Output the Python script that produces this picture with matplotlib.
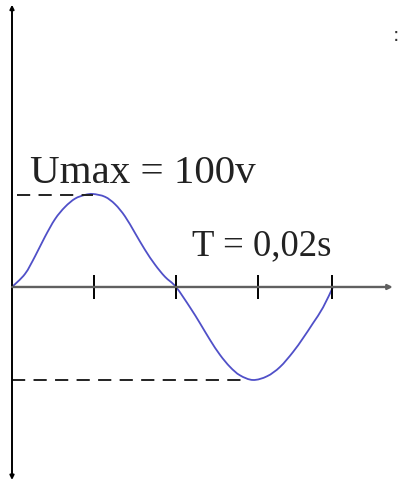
import matplotlib
matplotlib.use("Agg")
import matplotlib.pyplot as plt
from matplotlib.path import Path
from matplotlib.patches import PathPatch

plt.rcParams['lines.scale_dashes'] = False

# Data (time in ms, voltage in V)
t_pos = [0, 0.81, 1.44, 2.06, 2.69, 3.31, 3.94, 4.56, 5.06, 5.81, 6.44, 7.06, 7.69, 8.31, 8.94, 9.56, 10.25]
u_pos = [0, 14, 33, 54, 73, 86, 95, 99, 100, 97, 89, 76, 58, 40, 24, 11, 0]
t_neg = [10.25, 11.13, 11.75, 12.38, 13.0, 13.63, 14.25, 15.06, 15.94, 16.75, 17.56, 18.19, 18.81, 19.44, 20.06]
u_neg = [0, -22, -39, -57, -73, -86, -95, -100, -96, -86, -70, -55, -39, -22, 0]
tick_times = [5.13, 10.25, 15.38, 20.0]
u_max = 100
t_peak = 5.06
t_trough = 14.5
label_umax = "Umax = 100v"
label_period = "T = 0,02s"

fig = plt.figure(figsize=(4.01, 4.86), dpi=100)
ax = fig.add_axes([0, 0, 1, 1])
ax.set_xlim(-0.75, 24.3125)
ax.set_ylim(-214.0, 308.6)
ax.axis('off')

# vertical axis
ax.annotate('', xy=(0, 303.5), xytext=(0, -207.5),
            arrowprops=dict(arrowstyle='<|-|>', color='black', lw=1.4,
                            mutation_scale=6, shrinkA=0, shrinkB=0))
# horizontal axis
ax.annotate('', xy=(23.8, 0), xytext=(0, 0),
            arrowprops=dict(arrowstyle='-|>', color='#606060', lw=1.7,
                            mutation_scale=7, shrinkA=0, shrinkB=0))

# ticks
for tt in tick_times:
    ax.plot([tt, tt], [-13, 13], color='black', lw=1.4, solid_capstyle='butt')

# dashed level lines
ax.plot([0.3, t_peak], [u_max * 0.99, u_max * 0.99], color='#222222', lw=1.4,
        dashes=(9.5, 6))
ax.plot([0, t_trough], [-u_max * 1.005, -u_max * 1.005], color='#222222', lw=1.4,
        dashes=(9.5, 6))

# the sine curve, drawn as a smooth path through the read points
xs = t_pos + t_neg[1:]
ys = u_pos + u_neg[1:]
pts = [ax.transData.transform((x, y)) for x, y in zip(xs, ys)]
verts = [pts[0]]
codes = [Path.MOVETO]
n = len(pts)
for i in range(n - 1):
    p0 = pts[i - 1] if i > 0 else pts[i]
    p1 = pts[i]
    p2 = pts[i + 1]
    p3 = pts[i + 2] if i + 2 < n else pts[i + 1]
    c1 = (p1[0] + (p2[0] - p0[0]) / 6, p1[1] + (p2[1] - p0[1]) / 6)
    c2 = (p2[0] - (p3[0] - p1[0]) / 6, p2[1] - (p3[1] - p1[1]) / 6)
    verts += [c1, c2, tuple(p2)]
    codes += [Path.CURVE4] * 3
path = Path(verts, codes)
ax.add_patch(PathPatch(path, transform=None, facecolor='none',
                       edgecolor='#5050c8', lw=1.3))

ax.text(1.13, 112, label_umax, family='Liberation Serif', fontsize=29.5,
        color='#222222', ha='left', va='baseline')
ax.text(11.25, 34, label_period, family='Liberation Serif', fontsize=26.5,
        color='#222222', ha='left', va='baseline')
ax.text(24.0, 270, ':', family='DejaVu Sans', fontsize=14, color='#333333',
        ha='center', va='center')

fig.savefig('out.png', dpi=100)
